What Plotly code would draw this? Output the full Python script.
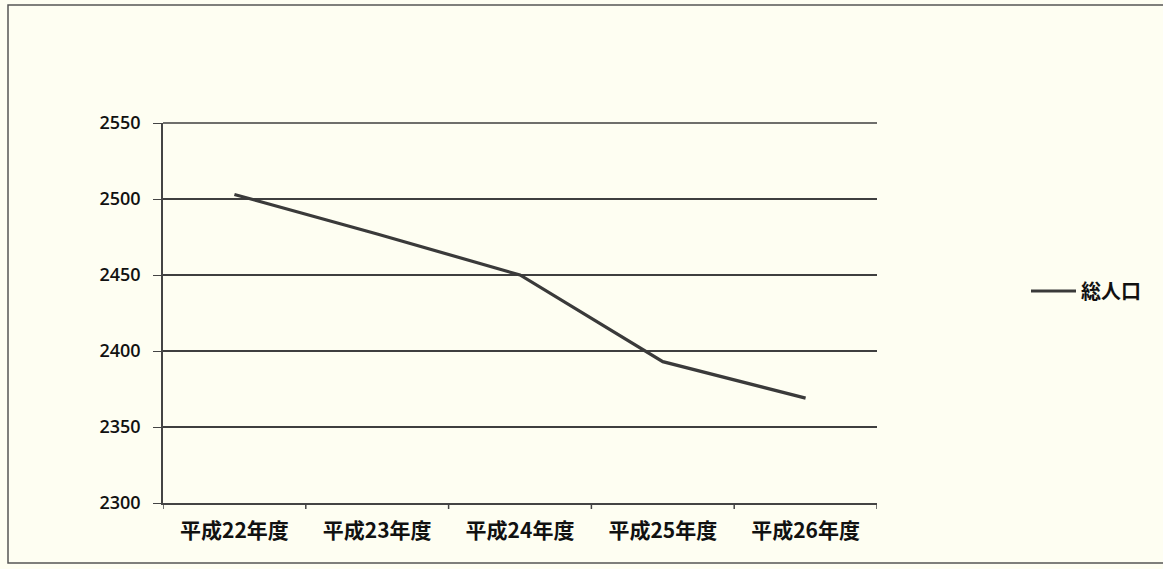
import plotly.graph_objects as go

# Total population by fiscal year
years = ["平成22年度", "平成23年度", "平成24年度", "平成25年度", "平成26年度"]
population = [2503, 2477, 2450, 2393, 2369]
series_name = "総人口"
y_ticks = [2300, 2350, 2400, 2450, 2500, 2550]

W, H = 1163, 569
L, R, T, B = 163, 286, 123, 66
pw, ph = W - L - R, H - T - B

fig = go.Figure()
fig.add_trace(go.Scatter(
    x=years, y=population, mode="lines", name=series_name,
    line=dict(color="#3a3a3a", width=3.2),
))

# outer chart frame (in paper fractions of the plot area)
def px_x(v):
    return (v - L) / pw

def px_y(v):
    return (H - B - v) / ph

fig.add_shape(type="rect", xref="paper", yref="paper",
              x0=px_x(8), x1=px_x(1175), y0=px_y(563), y1=px_y(5),
              line=dict(color="#555555", width=1.5), layer="below")

# gridline along the top of the value range
fig.add_shape(type="line", xref="paper", yref="paper",
              x0=0, x1=1, y0=1, y1=1,
              line=dict(color="#3f3f3f", width=1.5))

fig.update_layout(
    width=W, height=H,
    margin=dict(l=L, r=R, t=T, b=B),
    paper_bgcolor="#fefef2", plot_bgcolor="#fefef2",
    font=dict(family="Noto Sans CJK JP, Liberation Sans, sans-serif", color="#111111"),
    showlegend=True,
    legend=dict(x=px_x(1026), y=px_y(291), xanchor="left", yanchor="middle",
                bgcolor="rgba(0,0,0,0)", itemwidth=45,
                font=dict(size=20, family="Noto Sans CJK JP", color="#111111", weight="bold")),
    xaxis=dict(
        type="category", range=[-0.5, 4.5],
        showgrid=False, showline=True, linecolor="#444444", linewidth=1.5,
        ticks="", tickfont=dict(size=21, weight="bold", family="Noto Sans CJK JP", color="#111111"),
        ticklabelstandoff=8,
    ),
    yaxis=dict(
        range=[2300, 2550], tickvals=y_ticks,
        showgrid=True, gridcolor="#3f3f3f", gridwidth=1.5,
        showline=True, linecolor="#444444", linewidth=1.5,
        ticks="outside", ticklen=8, tickcolor="#444444",
        tickfont=dict(size=18, family="Open Sans", color="#111111", weight=600),
        ticklabelstandoff=9,
        zeroline=False,
    ),
)

# category boundary ticks along the x axis
for i in range(6):
    fig.add_shape(type="line", xref="x", yref="paper",
                  x0=i - 0.5, x1=i - 0.5, y0=0, y1=-6 / ph,
                  line=dict(color="#444444", width=1.5))

fig.write_html("out.html")
